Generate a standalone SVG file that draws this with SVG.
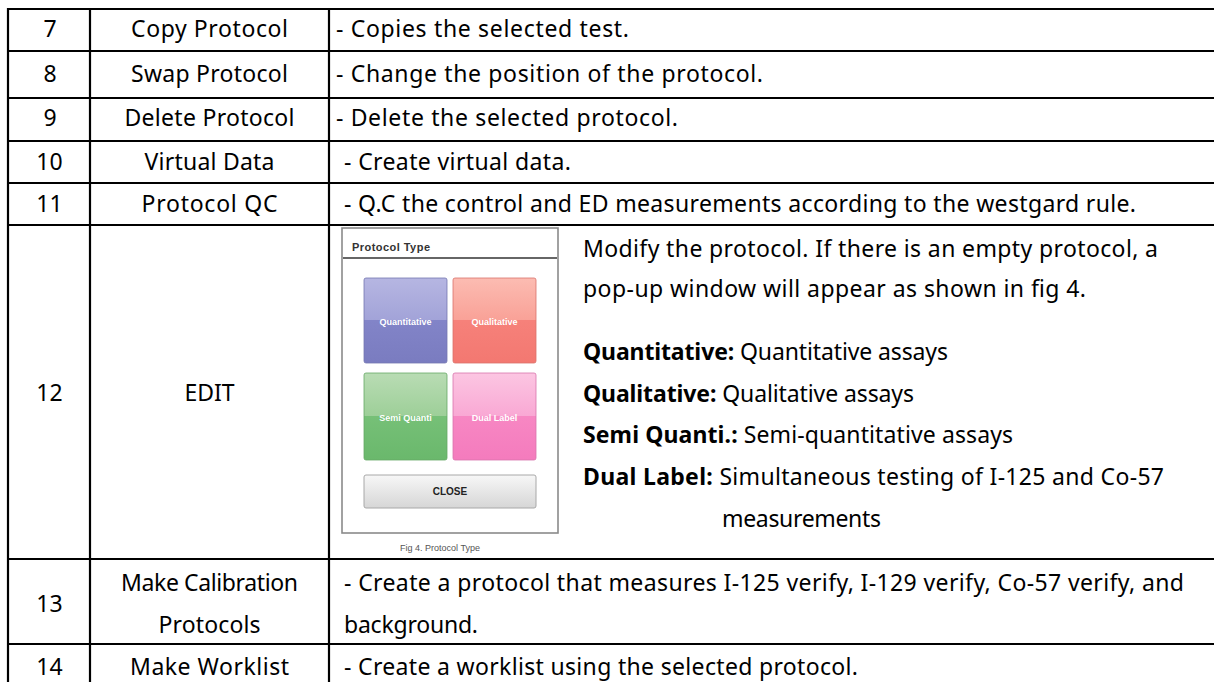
<svg xmlns="http://www.w3.org/2000/svg" width="1214" height="682" viewBox="0 0 1214 682">
<style>
.t{font-family:"Noto Sans","Open Sans","Liberation Sans",sans-serif;font-size:23px;fill:#000}
.c{text-anchor:middle}
.b{font-weight:bold}
.ln{stroke:#000;stroke-width:2.2;fill:none}
.bl{font-family:"Liberation Sans",Arial,sans-serif;font-size:9px;font-weight:bold;fill:#fff;text-anchor:middle}
</style>
<defs>
<linearGradient id="gQn" x1="0" y1="0" x2="0" y2="1"><stop offset="0" stop-color="#b6b6e2"/><stop offset="0.5" stop-color="#a2a3d8"/><stop offset="0.5" stop-color="#8284c8"/><stop offset="1" stop-color="#7a7cc0"/></linearGradient>
<linearGradient id="gQl" x1="0" y1="0" x2="0" y2="1"><stop offset="0" stop-color="#fcbcb2"/><stop offset="0.5" stop-color="#f9a197"/><stop offset="0.5" stop-color="#f6817a"/><stop offset="1" stop-color="#f37871"/></linearGradient>
<linearGradient id="gSq" x1="0" y1="0" x2="0" y2="1"><stop offset="0" stop-color="#b9dcb4"/><stop offset="0.5" stop-color="#9dcf98"/><stop offset="0.5" stop-color="#76c077"/><stop offset="1" stop-color="#6ab86c"/></linearGradient>
<linearGradient id="gDl" x1="0" y1="0" x2="0" y2="1"><stop offset="0" stop-color="#fcc6e2"/><stop offset="0.5" stop-color="#f9a8d4"/><stop offset="0.5" stop-color="#f787c3"/><stop offset="1" stop-color="#f47bbd"/></linearGradient>
<linearGradient id="gCl" x1="0" y1="0" x2="0" y2="1"><stop offset="0" stop-color="#f7f7f7"/><stop offset="1" stop-color="#d6d6d6"/></linearGradient>
</defs>
<rect width="1214" height="682" fill="#fff"/>

<g id="grid">
<line class="ln" x1="8" y1="9" x2="1214" y2="9"/>
<line class="ln" x1="8" y1="51" x2="1214" y2="51"/>
<line class="ln" x1="8" y1="98" x2="1214" y2="98"/>
<line class="ln" x1="8" y1="141" x2="1214" y2="141"/>
<line class="ln" x1="8" y1="183" x2="1214" y2="183"/>
<line class="ln" x1="8" y1="225" x2="1214" y2="225"/>
<line class="ln" x1="8" y1="559" x2="1214" y2="559"/>
<line class="ln" x1="8" y1="644" x2="1214" y2="644"/>
<line class="ln" x1="8" y1="8" x2="8" y2="682"/>
<line class="ln" x1="90" y1="8" x2="90" y2="682"/>
<line class="ln" x1="329" y1="8" x2="329" y2="682"/>
</g>

<g id="row-7">
<text class="t c" x="50" y="37">7</text>
<text class="t c" x="209.5" y="37" textLength="157">Copy Protocol</text>
<text class="t" x="336" y="37" textLength="293">- Copies the selected test.</text>
</g>
<g id="row-8">
<text class="t c" x="50" y="82">8</text>
<text class="t c" x="209.5" y="82" textLength="157">Swap Protocol</text>
<text class="t" x="336" y="82" textLength="427">- Change the position of the protocol.</text>
</g>
<g id="row-9">
<text class="t c" x="50" y="126">9</text>
<text class="t c" x="209.5" y="126" textLength="170">Delete Protocol</text>
<text class="t" x="336" y="126" textLength="342">- Delete the selected protocol.</text>
</g>
<g id="row-10">
<text class="t c" x="49.5" y="170">10</text>
<text class="t c" x="209.5" y="170" textLength="130">Virtual Data</text>
<text class="t" x="344" y="170" textLength="227">- Create virtual data.</text>
</g>
<g id="row-11">
<text class="t c" x="49.5" y="212">11</text>
<text class="t c" x="209.5" y="212" textLength="136">Protocol QC</text>
<text class="t" x="344" y="212" textLength="792">- Q.C the control and ED measurements according to the westgard rule.</text>
</g>
<g id="row-12">
<text class="t c" x="49.5" y="401">12</text>
<text class="t c" x="209.5" y="401" textLength="50">EDIT</text>
<text class="t" x="583" y="257" textLength="575">Modify the protocol. If there is an empty protocol, a</text>
<text class="t" x="583" y="297" textLength="503">pop-up window will appear as shown in fig 4.</text>
<text class="t" x="583" y="360" textLength="365"><tspan class="b">Quantitative:</tspan> Quantitative assays</text>
<text class="t" x="583" y="402" textLength="331"><tspan class="b">Qualitative:</tspan> Qualitative assays</text>
<text class="t" x="583" y="443" textLength="430"><tspan class="b">Semi Quanti.:</tspan> Semi-quantitative assays</text>
<text class="t" x="583" y="485" textLength="581"><tspan class="b">Dual Label:</tspan> Simultaneous testing of I-125 and Co-57</text>
<text class="t" x="722" y="527" textLength="159">measurements</text>
</g>
<g id="fig4">
<rect x="342" y="228" width="216" height="305" fill="#fff" stroke="#8a8a8a" stroke-width="1.6"/>
<text x="352" y="251" font-family="Liberation Sans, Arial, sans-serif" font-size="11" font-weight="bold" fill="#333" textLength="78">Protocol Type</text>
<line x1="343" y1="258" x2="557" y2="258" stroke="#333" stroke-width="1.5"/>
<rect x="364" y="278" width="83" height="85" rx="2" fill="url(#gQn)" stroke="#7476b0" stroke-width="0.8"/>
<rect x="453" y="278" width="83" height="85" rx="2" fill="url(#gQl)" stroke="#d9726b" stroke-width="0.8"/>
<rect x="364" y="373" width="83" height="87" rx="2" fill="url(#gSq)" stroke="#66a866" stroke-width="0.8"/>
<rect x="453" y="373" width="83" height="87" rx="2" fill="url(#gDl)" stroke="#d874ac" stroke-width="0.8"/>
<text class="bl" x="405.5" y="325">Quantitative</text>
<text class="bl" x="494.5" y="325">Qualitative</text>
<text class="bl" x="405.5" y="421">Semi Quanti</text>
<text class="bl" x="494.5" y="421">Dual Label</text>
<rect x="364" y="475" width="172" height="33" rx="2" fill="url(#gCl)" stroke="#a8a8a8" stroke-width="1"/>
<text x="450" y="495" font-family="Liberation Sans, Arial, sans-serif" font-size="10" font-weight="bold" fill="#222" text-anchor="middle">CLOSE</text>
<text x="440" y="551" font-family="Liberation Sans, Arial, sans-serif" font-size="9" fill="#555" text-anchor="middle">Fig 4. Protocol Type</text>
</g>
<g id="row-13">
<text class="t c" x="49.5" y="612">13</text>
<text class="t c" x="209.5" y="591" textLength="177">Make Calibration</text>
<text class="t c" x="209.5" y="633" textLength="102">Protocols</text>
<text class="t" x="344" y="591" textLength="840">- Create a protocol that measures I-125 verify, I-129 verify, Co-57 verify, and</text>
<text class="t" x="344" y="633" textLength="134">background.</text>
</g>
<g id="row-14">
<text class="t c" x="49.5" y="675">14</text>
<text class="t c" x="209.5" y="675" textLength="159">Make Worklist</text>
<text class="t" x="344" y="675" textLength="514">- Create a worklist using the selected protocol.</text>
</g>
</svg>
